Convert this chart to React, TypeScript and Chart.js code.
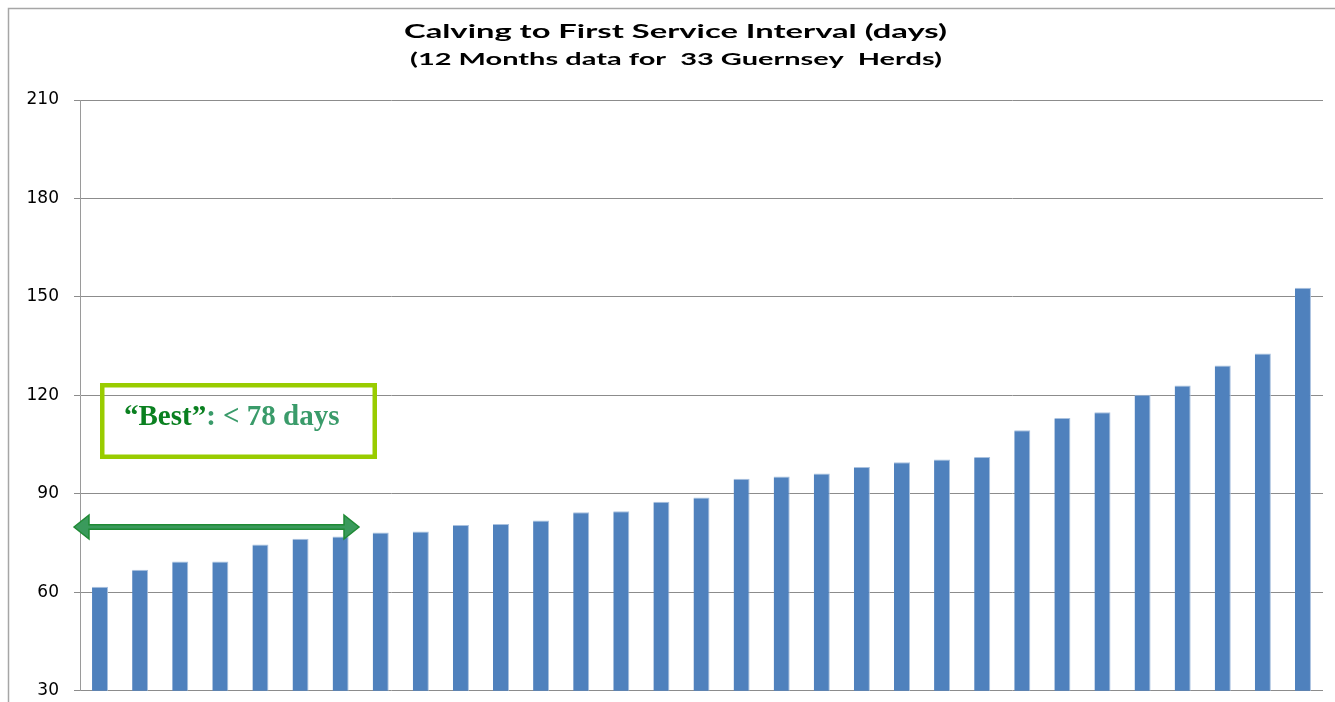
import React, { useEffect, useRef } from "react";
import { Chart, registerables } from "chart.js";

Chart.register(...registerables);

const herds = Array.from({ length: 31 }, (_, i) => String(i + 1));
const intervalDays = [
  61.7, 66.9, 69.4, 69.4, 74.6, 76.3, 77.0, 78.2, 78.5, 80.5, 80.8, 81.9, 84.4, 84.7, 87.6, 88.9,
  94.6, 95.3, 96.2, 98.2, 99.6, 100.5, 101.2, 109.4, 113.1, 114.9, 120.2, 123.0, 129.1, 132.8, 152.8,
];
const titleLines = ["Calving to First Service Interval (days)", "(12 Months data for  33 Guernsey  Herds)"];
const bestLabelA = "\u201CBest\u201D";
const bestLabelB = ": < 78 days";

const decorPlugin = {
  id: "decor",
  beforeDraw(chart: any) {
    const ctx = chart.ctx as CanvasRenderingContext2D;
    ctx.save();
    ctx.fillStyle = "#ffffff";
    ctx.fillRect(0, 0, chart.width, chart.height);
    ctx.strokeStyle = "#a6a6a6";
    ctx.lineWidth = 1.5;
    ctx.beginPath();
    ctx.moveTo(8.5, chart.height + 5);
    ctx.lineTo(8.5, 8.5);
    ctx.lineTo(chart.width + 5, 8.5);
    ctx.stroke();
    ctx.restore();
  },
  afterDraw(chart: any) {
    const ctx = chart.ctx as CanvasRenderingContext2D;
    ctx.save();
    const drawStretched = (text: string, font: string, cx: number, y: number, targetW: number) => {
      ctx.font = font;
      const w = ctx.measureText(text).width;
      const sx = targetW / w;
      ctx.save();
      ctx.translate(cx, y);
      ctx.scale(sx, 1);
      ctx.textAlign = "center";
      ctx.textBaseline = "alphabetic";
      ctx.fillStyle = "#000000";
      ctx.fillText(text, 0, 0);
      ctx.restore();
    };
    drawStretched(titleLines[0], "bold 18px Lato", 675.5, 38, 543);
    drawStretched(titleLines[1], "bold 17px Lato", 676, 65, 532);

    ctx.strokeStyle = "#99cc00";
    ctx.lineWidth = 4.5;
    ctx.strokeRect(102.25, 385.25, 272.5, 71.5);
    ctx.font = "bold 29px 'Liberation Serif'";
    ctx.textBaseline = "alphabetic";
    ctx.textAlign = "left";
    ctx.fillStyle = "#0a8020";
    ctx.fillText(bestLabelA, 124, 425);
    const wa = ctx.measureText(bestLabelA).width;
    ctx.fillStyle = "#3a9b6a";
    ctx.fillText(bestLabelB, 124 + wa, 425);

    const y0 = 527;
    const xl = 74, xr = 359, hl = 15, hh = 12, st = 2.2;
    ctx.beginPath();
    ctx.moveTo(xl, y0);
    ctx.lineTo(xl + hl, y0 - hh);
    ctx.lineTo(xl + hl, y0 - st);
    ctx.lineTo(xr - hl, y0 - st);
    ctx.lineTo(xr - hl, y0 - hh);
    ctx.lineTo(xr, y0);
    ctx.lineTo(xr - hl, y0 + hh);
    ctx.lineTo(xr - hl, y0 + st);
    ctx.lineTo(xl + hl, y0 + st);
    ctx.lineTo(xl + hl, y0 + hh);
    ctx.closePath();
    ctx.fillStyle = "#3a9a5c";
    ctx.fill();
    ctx.strokeStyle = "#1f8a35";
    ctx.lineWidth = 1.5;
    ctx.lineJoin = "miter";
    ctx.stroke();
    ctx.restore();
  },
};

export default function App() {
  const ref = useRef<HTMLCanvasElement | null>(null);
  useEffect(() => {
    if (!ref.current) return;
    const chart = new Chart(ref.current, {
      type: "bar",
      data: {
        labels: herds,
        datasets: [
          {
            data: intervalDays,
            backgroundColor: "#4f81bd",
            borderColor: "#a9c1df",
            borderWidth: { top: 1, right: 1, left: 0, bottom: 0 },
            categoryPercentage: 1,
            barPercentage: 0.4,
          },
        ],
      },
      options: {
        responsive: false,
        animation: false,
        layout: { padding: { left: 0, right: 12, top: 100, bottom: 12 } },
        plugins: { legend: { display: false }, tooltip: { enabled: false }, title: { display: false } },
        scales: {
          x: {
            display: false,
          },
          y: {
            min: 30,
            max: 210,
            ticks: {
              stepSize: 30,
              padding: 15,
              color: "#000000",
              font: { family: "'DejaVu Sans'", size: 17 },
            },
            grid: { color: "#8c8c8c", lineWidth: 1, tickLength: 6 },
            border: { display: true, color: "#9a9a9a", width: 1 },
            afterFit(scale: any) {
              scale.width = 80;
            },
          },
        },
      },
      plugins: [decorPlugin],
    });
    return () => chart.destroy();
  }, []);
  return (
    <div style={{ position: "fixed", left: 0, top: 0, width: 1335, height: 702, overflow: "hidden", background: "#fff" }}>
      <canvas ref={ref} width={1335} height={716} style={{ display: "block" }} />
    </div>
  );
}
